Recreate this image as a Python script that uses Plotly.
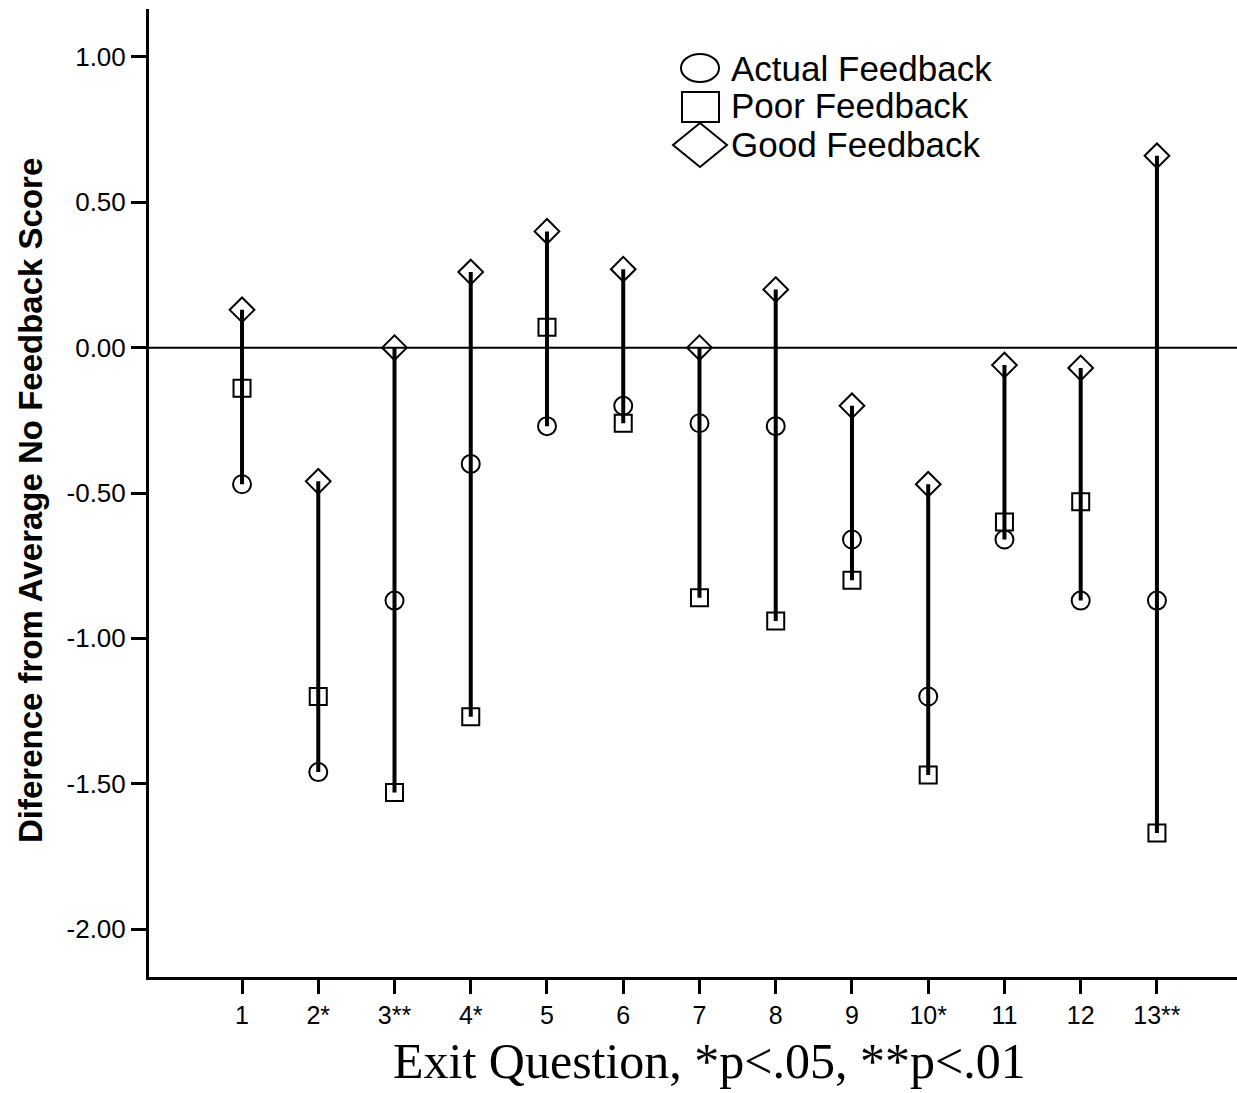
import plotly.graph_objects as go

categories = ["1", "2*", "3**", "4*", "5", "6", "7", "8", "9", "10*", "11", "12", "13**"]
positions = list(range(1, 14))
actual = [-0.47, -1.46, -0.87, -0.40, -0.27, -0.20, -0.26, -0.27, -0.66, -1.20, -0.66, -0.87, -0.87]
poor = [-0.14, -1.20, -1.53, -1.27, 0.07, -0.26, -0.86, -0.94, -0.80, -1.47, -0.60, -0.53, -1.67]
good = [0.13, -0.46, 0.00, 0.26, 0.40, 0.27, 0.00, 0.20, -0.20, -0.47, -0.06, -0.07, 0.66]
y_ticks = [1.0, 0.5, 0.0, -0.5, -1.0, -1.5, -2.0]

W, H = 1237, 1093
L, T, B, R = 149, 9, 116, 0
PW, PH = W - L - R, H - T - B

fig = go.Figure()

# vertical range lines
lx, ly = [], []
for p, a, b, c in zip(positions, actual, poor, good):
    vals = [a, b, c]
    lx += [p, p, None]
    ly += [min(vals), max(vals), None]
fig.add_trace(go.Scatter(x=lx, y=ly, mode="lines", line=dict(color="black", width=4),
                         showlegend=False, hoverinfo="skip"))

fig.add_trace(go.Scatter(x=positions, y=actual, mode="markers", name="Actual Feedback",
                         marker=dict(symbol="circle-open", size=18, color="black", line=dict(width=2))))
fig.add_trace(go.Scatter(x=positions, y=poor, mode="markers", name="Poor Feedback",
                         marker=dict(symbol="square-open", size=17, color="black", line=dict(width=2))))
fig.add_trace(go.Scatter(x=positions, y=good, mode="markers", name="Good Feedback",
                         marker=dict(symbol="diamond-open", size=19, color="black", line=dict(width=2))))

def px2paper(x, y):
    return (x - L) / PW, (H - B - y) / PH

shapes = []
# zero line
shapes.append(dict(type="line", xref="paper", yref="y", x0=0, x1=1, y0=0, y1=0,
                   line=dict(color="black", width=2), layer="below"))

# legend glyphs
cx0, cy0 = px2paper(681, 54)
cx1, cy1 = px2paper(719, 82)
shapes.append(dict(type="circle", xref="paper", yref="paper", x0=cx0, x1=cx1, y0=cy0, y1=cy1,
                   line=dict(color="black", width=2)))
sx0, sy0 = px2paper(682, 92)
sx1, sy1 = px2paper(719, 122)
shapes.append(dict(type="rect", xref="paper", yref="paper", x0=sx0, x1=sx1, y0=sy0, y1=sy1,
                   line=dict(color="black", width=2)))
dl = px2paper(673, 145)
dr = px2paper(727, 145)
dt = px2paper(700, 123)
db = px2paper(700, 167)
path = "M {0},{1} L {2},{3} L {4},{5} L {6},{7} Z".format(dl[0], dl[1], dt[0], dt[1], dr[0], dr[1], db[0], db[1])
shapes.append(dict(type="path", xref="paper", yref="paper", path=path,
                   line=dict(color="black", width=2)))

annotations = []
legend_labels = ["Actual Feedback", "Poor Feedback", "Good Feedback"]
legend_y = [68, 106, 145]
for lab, yy in zip(legend_labels, legend_y):
    ax, ay = px2paper(729, yy)
    annotations.append(dict(x=ax, y=ay, xref="paper", yref="paper", text=lab, showarrow=False,
                            xanchor="left", yanchor="middle",
                            font=dict(family="Liberation Sans, Arial", size=35, color="black")))

# axis titles placed as annotations
tx, ty = px2paper(709, 1061)
annotations.append(dict(x=tx, y=ty, xref="paper", yref="paper", text="Exit Question, *p<.05, **p<.01",
                        showarrow=False, xanchor="center", yanchor="middle",
                        font=dict(family="Liberation Serif, Times New Roman", size=50, color="black")))
yx, yy2 = px2paper(30, 501)
annotations.append(dict(x=yx, y=yy2, xref="paper", yref="paper",
                        text="<b>Diference from Average No Feedback Score</b>", textangle=-90,
                        showarrow=False, xanchor="center", yanchor="middle",
                        font=dict(family="Liberation Sans, Arial", size=33, color="black")))

fig.update_layout(
    width=W, height=H,
    margin=dict(l=L, r=R, t=T, b=B),
    paper_bgcolor="white", plot_bgcolor="white",
    showlegend=False,
    shapes=shapes,
    annotations=annotations,
    xaxis=dict(range=[-0.22, 14.05], tickmode="array", tickvals=positions, ticktext=categories,
               showgrid=False, zeroline=False, showline=True, linecolor="black", linewidth=3,
               ticks="outside", ticklen=14, tickwidth=3, tickcolor="black",
               tickfont=dict(family="Liberation Sans, Arial", size=25, color="black")),
    yaxis=dict(range=[-2.165, 1.165], tickmode="array", tickvals=y_ticks,
               ticktext=["%.2f" % v for v in y_ticks],
               showgrid=False, zeroline=False, showline=True, linecolor="black", linewidth=3,
               ticks="outside", ticklen=15, tickwidth=3, tickcolor="black",
               tickfont=dict(family="Liberation Sans, Arial", size=26, color="black")),
)

fig.write_html("out.html")
